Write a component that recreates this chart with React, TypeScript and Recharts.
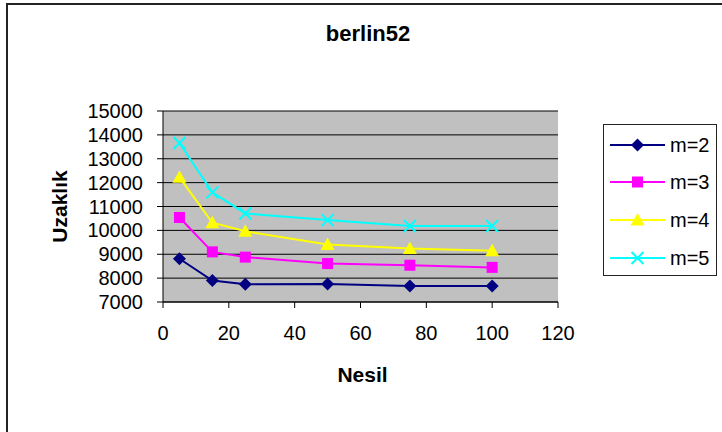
import React from 'react';
import { LineChart, Line, XAxis, YAxis, CartesianGrid, Legend, Label } from 'recharts';

const nesil = [5, 15, 25, 50, 75, 100];
const m2 = [8810, 7900, 7740, 7750, 7670, 7670];
const m3 = [10540, 9100, 8880, 8610, 8540, 8450];
const m4 = [12220, 10320, 9960, 9410, 9240, 9150];
const m5 = [13660, 11590, 10710, 10430, 10180, 10180];

const xTicks = [0, 20, 40, 60, 80, 100, 120];
const yTicks = [7000, 8000, 9000, 10000, 11000, 12000, 13000, 14000, 15000];

const seriesKeys = ['m2', 'm3', 'm4', 'm5'];
const seriesNames = ['m=2', 'm=3', 'm=4', 'm=5'];
const seriesColors = ['#000080', '#FF00FF', '#FFFF00', '#00FFFF'];
const seriesShapes = ['diamond', 'square', 'triangle', 'cross'];

const title = 'berlin52';
const xLabel = 'Nesil';
const yLabel = 'Uzaklık';

const data = nesil.map((n, i) => ({ nesil: n, m2: m2[i], m3: m3[i], m4: m4[i], m5: m5[i] }));

const FONT = '"Liberation Sans", Arial, sans-serif';

function Marker({ shape, cx, cy, color }: { shape: string; cx: number; cy: number; color: string }) {
  if (cx == null || cy == null) return null;
  switch (shape) {
    case 'diamond':
      return <polygon points={`${cx},${cy - 6.5} ${cx + 6.5},${cy} ${cx},${cy + 6.5} ${cx - 6.5},${cy}`} fill={color} />;
    case 'square':
      return <rect x={cx - 5.5} y={cy - 5.5} width={11} height={11} fill={color} />;
    case 'triangle':
      return <polygon points={`${cx},${cy - 7} ${cx + 7},${cy + 5.5} ${cx - 7},${cy + 5.5}`} fill={color} />;
    default:
      return (
        <g stroke={color} strokeWidth={2}>
          <line x1={cx - 6} y1={cy - 6} x2={cx + 6} y2={cy + 6} />
          <line x1={cx - 6} y1={cy + 6} x2={cx + 6} y2={cy - 6} />
        </g>
      );
  }
}

function LegendBox() {
  const rows = [21, 58, 96, 134];
  return (
    <svg width={114} height={152} style={{ display: 'block' }}>
      <rect x={0.5} y={0.5} width={113} height={151} fill="#fff" stroke="#222" strokeWidth={1} />
      {seriesNames.map((name, i) => (
        <g key={name}>
          <line x1={7} y1={rows[i]} x2={62} y2={rows[i]} stroke={seriesColors[i]} strokeWidth={2} />
          <Marker shape={seriesShapes[i]} cx={34.5} cy={rows[i]} color={seriesColors[i]} />
          <text x={67} y={rows[i] + 7} fontSize={20} fontFamily={FONT} fill="#000">{name}</text>
        </g>
      ))}
    </svg>
  );
}

export default function App() {
  return (
    <div style={{ position: 'absolute', left: 0, top: 0, width: 722, height: 432, overflow: 'hidden', background: '#fff' }}>
      <div style={{ position: 'absolute', left: 6, top: 3, width: 900, height: 600, border: '2px solid #222', boxSizing: 'border-box' }} />
      <svg width={722} height={60} style={{ position: 'absolute', left: 0, top: 0 }}>
        <text x={368} y={41} textAnchor="middle" fontSize={22} fontWeight="bold" fontFamily={FONT} fill="#000">{title}</text>
      </svg>
      <div style={{ position: 'absolute', left: 0, top: 0 }}>
        <LineChart width={722} height={432} data={data} margin={{ top: 111, right: 164, bottom: 100, left: 103 }}>
          <CartesianGrid vertical={false} fill="#C0C0C0" fillOpacity={1} stroke="#000" strokeWidth={1} />
          <XAxis
            dataKey="nesil"
            type="number"
            domain={[0, 120]}
            ticks={xTicks}
            interval={0}
            height={30}
            tickSize={6}
            tickMargin={18}
            axisLine={{ stroke: '#000' }}
            tickLine={{ stroke: '#000' }}
            tick={{ fill: '#000', fontSize: 20, fontFamily: FONT }}
          >
            <Label value={xLabel} position="bottom" offset={35} dx={2} style={{ fontSize: 21, fontWeight: 'bold', fill: '#000', fontFamily: FONT }} />
          </XAxis>
          <YAxis
            domain={[7000, 15000]}
            ticks={yTicks}
            interval={0}
            width={60}
            tickSize={6}
            tickMargin={14}
            axisLine={{ stroke: '#000' }}
            tickLine={{ stroke: '#000' }}
            tick={{ fill: '#000', fontSize: 20, fontFamily: FONT }}
          >
            <Label
              content={(props: any) => {
                const vb = props.viewBox || { x: 103, y: 111, height: 191 };
                const cx = vb.x - 44;
                const cy = vb.y + vb.height / 2;
                return (
                  <text x={cx} y={cy} transform={`rotate(-90 ${cx} ${cy})`} textAnchor="middle" dominantBaseline="central" fontSize={21} fontWeight="bold" fontFamily={FONT} fill="#000">
                    {yLabel}
                  </text>
                );
              }}
            />
          </YAxis>
          <YAxis yAxisId="right" orientation="right" width={0} domain={[7000, 15000]} tick={false} tickLine={false} axisLine={{ stroke: '#808080' }} />
          <Legend
            layout="vertical"
            align="center"
            verticalAlign="middle"
            wrapperStyle={{ left: 603, top: 124, width: 114, height: 152 }}
            content={() => <LegendBox />}
          />
          {seriesKeys.map((k, i) => (
            <Line
              key={k}
              dataKey={k}
              name={seriesNames[i]}
              stroke={seriesColors[i]}
              strokeWidth={2}
              isAnimationActive={false}
              dot={(p: any) => (
                <Marker key={`${k}-${p.index}`} shape={seriesShapes[i]} cx={p.cx} cy={p.cy} color={seriesColors[i]} />
              )}
              activeDot={false}
            />
          ))}
        </LineChart>
      </div>
    </div>
  );
}
